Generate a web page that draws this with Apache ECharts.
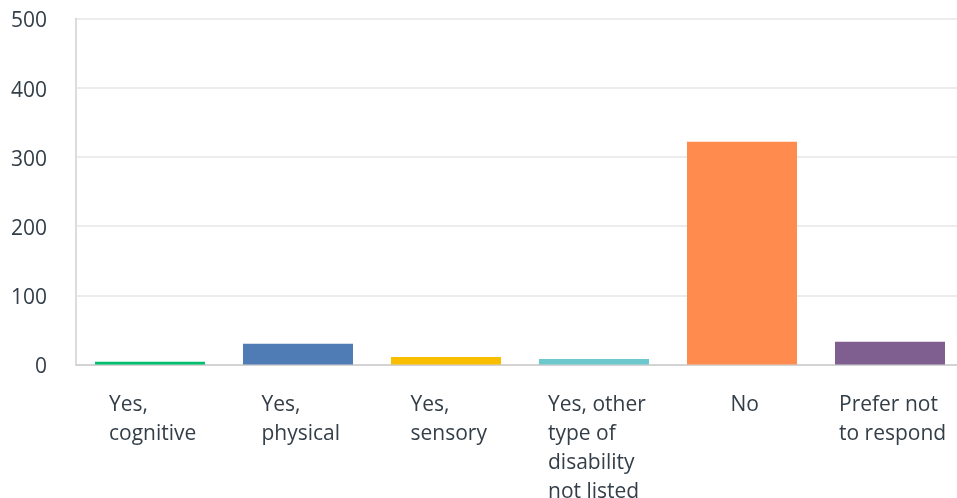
<!DOCTYPE html>
<html>
<head>
<meta charset="utf-8">
<script src="https://cdn.jsdelivr.net/npm/echarts@6/dist/echarts.min.js"></script>
<style>
html,body{margin:0;padding:0;background:#fff;}
#chart{width:957px;height:498px;}
</style>
</head>
<body>
<div id="chart"></div>
<script>
const categories = ['Yes, cognitive', 'Yes, physical', 'Yes, sensory', 'Yes, other type of disability not listed', 'No', 'Prefer not to respond'];
const labelLines = [['Yes,', 'cognitive'], ['Yes,', 'physical'], ['Yes,', 'sensory'], ['Yes, other', 'type of', 'disability', 'not listed'], ['No'], ['Prefer not', 'to respond']];
const values = [4, 30, 11, 8, 322, 33];
const colors = ['#00bf6f', '#507cb6', '#f9be00', '#6bc8cd', '#ff8b4f', '#7f5f90'];
const yTicks = [0, 100, 200, 300, 400, 500];

const FONT = '"Open Sans", sans-serif';
const FS = 21;
const TXT = '#333e48';

const ctx = document.createElement('canvas').getContext('2d');
ctx.font = FS + 'px ' + FONT;
const rich = {};
labelLines.forEach((lines, i) => {
  const w = Math.max(...lines.map(l => ctx.measureText(l).width));
  rich['c' + i] = { width: Math.ceil(w), align: 'left', fontSize: FS, fontFamily: FONT, color: TXT, lineHeight: 29 };
});

const chart = echarts.init(document.getElementById('chart'));
chart.setOption({
  animation: false,
  grid: { left: 76, width: 888, top: 18.5, bottom: 133.5, containLabel: false, outerBoundsMode: 'none' },
  xAxis: {
    type: 'category',
    data: categories,
    axisLine: { show: true, lineStyle: { color: '#d3d3d3', width: 2 } },
    axisTick: { show: false },
    axisLabel: {
      interval: 0,
      margin: 26,
      align: 'center',
      verticalAlign: 'top',
      padding: [0, 0, 0, 6],
      formatter: (v, i) => labelLines[i].map(l => '{c' + i + '|' + l + '}').join('\n'),
      rich: rich
    }
  },
  yAxis: {
    type: 'value',
    min: yTicks[0],
    max: yTicks[yTicks.length - 1],
    interval: 100,
    axisLine: { show: true, lineStyle: { color: '#dcdcdc', width: 2 } },
    axisTick: { show: false },
    splitLine: { lineStyle: { color: '#ececec', width: 2 } },
    axisLabel: {
      margin: 29,
      formatter: v => '{y|' + v + '}',
      rich: { y: { fontSize: FS, fontFamily: FONT, color: TXT, padding: [6, 0, 0, 0] } }
    }
  },
  series: [{
    type: 'bar',
    barWidth: 110,
    data: values.map((v, i) => ({ value: v, itemStyle: { color: colors[i] } })),
    label: { show: false }
  }]
});
</script>
</body>
</html>
